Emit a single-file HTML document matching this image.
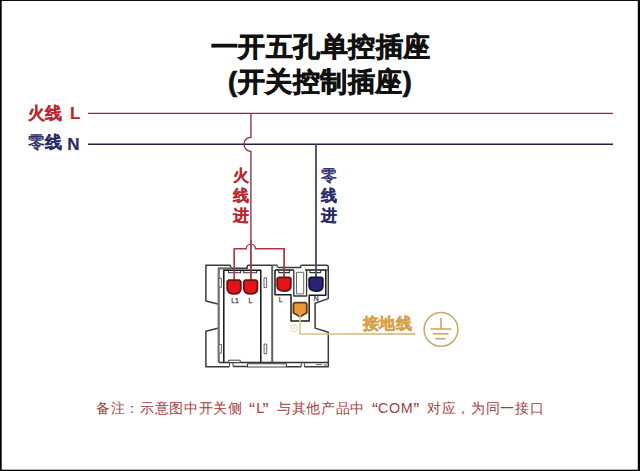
<!DOCTYPE html>
<html><head><meta charset="utf-8">
<style>
html,body{margin:0;padding:0;}
body{width:640px;height:471px;position:relative;overflow:hidden;background:#fff;font-family:"Liberation Sans",sans-serif;}
#frame{position:absolute;left:0;top:0;width:640px;height:471px;box-sizing:border-box;border-style:solid;border-color:#000;border-width:1px 2px 2px 2px;}
.t{position:absolute;white-space:nowrap;line-height:1;}
.title{font-weight:bold;font-size:27px;color:#111;-webkit-text-stroke:0.7px #111;letter-spacing:0.55px;}
.lbl{font-weight:bold;font-size:17px;-webkit-text-stroke:0.2px currentColor;}
.lat{font-size:17px;}
.red{color:#b8282e;}
.blue{color:#2a2a68;}
.vt{font-weight:bold;font-size:16px;line-height:20px;width:16px;white-space:normal;-webkit-text-stroke:0.15px currentColor;}
.foot{font-size:14.3px;color:#a83a3c;letter-spacing:0.65px;}
.gold{color:#d99f48;font-weight:bold;font-size:16.3px;-webkit-text-stroke:0.4px currentColor;}
svg{position:absolute;left:0;top:0;}
.ling{font-weight:500;-webkit-text-stroke:0.5px currentColor;}
</style></head>
<body>
<div class="t title" style="left:210.5px;top:33.5px;">一开五孔单控插座</div>
<div class="t title" style="left:228px;top:69px;">(开关控制插座)</div>

<div class="t lbl red" style="left:27.8px;top:105px;font-size:16.5px">火线</div><div class="t lbl red lat" style="left:70px;top:104.5px;">L</div>
<div class="t lbl blue" style="left:27.5px;top:134px;font-size:16.5px"><span class="ling">零</span>线</div><div class="t lbl blue lat" style="left:67.3px;top:135.5px;">N</div>

<div class="t vt red" style="left:233px;top:166px;">火线进</div>
<div class="t vt blue" style="left:321px;top:166.3px;"><span class="ling">零</span>线进</div>

<div class="t gold" style="left:362.5px;top:314.5px;letter-spacing:0.5px">接地线</div>

<div class="t foot" style="left:96px;top:401px;">备注：示意图中开关侧</div>
<div class="t foot" style="left:249px;top:401px;font-size:18px">“</div>
<div class="t foot" style="left:256.3px;top:401px;">L</div>
<div class="t foot" style="left:262.5px;top:401px;font-size:18px">”</div>
<div class="t foot" style="left:277px;top:401px;">与其他产品中</div>
<div class="t foot" style="left:372px;top:401px;font-size:18px">“</div>
<div class="t foot" style="left:378px;top:401px;">COM</div>
<div class="t foot" style="left:413.3px;top:401px;font-size:18px">”</div>
<div class="t foot" style="left:427px;top:401px;">对应，为同一接口</div>

<svg width="640" height="471" viewBox="0 0 640 471">
  <!-- main lines -->
  <line x1="88" y1="113.4" x2="613" y2="113.4" stroke="#8e2c3c" stroke-width="1.4"/>
  <line x1="88" y1="144.2" x2="613" y2="144.2" stroke="#222246" stroke-width="1.4"/>
  <!-- red vertical with jump arc -->
  <path d="M250.9 113.5 V137.3 A7 7 0 0 0 250.9 151.3 V285" fill="none" stroke="#843442" stroke-width="1.35"/>
  <!-- blue vertical -->
  <line x1="315.9" y1="144.5" x2="315.9" y2="283" stroke="#50506a" stroke-width="1.6"/>
  <!-- red bracket -->
  <path d="M234.3 285 V248.7 H246.3 A4.6 4.6 0 0 1 255.5 248.7 H284.2 V283" fill="none" stroke="#a83646" stroke-width="1.4"/>
  
  <!-- socket body -->
  <g fill="none" stroke-linejoin="round">
    <!-- outer frame -->
    <path d="M230.5 265.2 H205.9 V301 L217.8 304.1 M217.8 328.2 L205.9 331.2 V366.8 H229.5 M233 366.6 H247.5 M286.4 366.8 H301.2 M304.4 366.8 H328.3 V332.3 L315.1 328.1 V303.3 L328.3 298.6 V267 Q328.3 265.2 326.5 265.2 H302 Q300.6 265.2 300.6 266.6 V267.4 H278 M272.5 265.2 H248.5 Q247.2 265.2 247.2 266.6 V268.3 H231.8 Q230.5 268.3 230.5 266.8 V265.2" stroke="#3a3a3a" stroke-width="1.5"/>
    <!-- inner switch body -->
    <path d="M218.7 362.3 V268.3 H231" stroke="#707070" stroke-width="2.2"/>
    <path d="M223.8 362.3 V270.2 H260.8 V362.3" stroke="#151515" stroke-width="1.5"/>
    <path d="M218.7 362.5 H328.3" stroke="#303030" stroke-width="1.4"/>
    <!-- top notches in switch -->
    <path d="M228.5 270.2 V272.8 H240.6 V270.2 M243.6 270.2 V272.8 H256.6 V270.2" stroke="#333" stroke-width="1.1"/>
    <!-- right module -->
    <path d="M272.2 362.3 V265.2" stroke="#606060" stroke-width="2"/>
    <path d="M275 270 V294.8 H291 V321 H309.2 V295.2 H325.8 V270 H305.2 M293.8 270 H275" stroke="#1a1a1a" stroke-width="1.5"/>
    <path d="M272.5 265.2 H277.2 V267.4" stroke="#3a3a3a" stroke-width="1.2"/>
    <!-- center slot -->
    <path d="M293.8 270 V296 H306.6 V270" stroke="#333" stroke-width="1.3"/>
    <rect x="296.5" y="272.3" width="7.2" height="21.6" stroke="#6a6a6a" stroke-width="1"/>
    <path d="M278.7 270 V272.6 H289.4 V270 M310 270 V272.6 H320.6 V270" stroke="#333" stroke-width="1.1"/>
    <path d="M325.8 270 H328.3" stroke="#333" stroke-width="1"/>
    <!-- slots -->
    <rect x="219" y="278.3" width="2.4" height="9" stroke="#555" stroke-width="0.9" fill="#fff"/>
    <rect x="264" y="277.8" width="2.6" height="9.8" stroke="#555" stroke-width="0.9"/>
    <rect x="219" y="344.4" width="2.4" height="8.8" stroke="#555" stroke-width="0.9" fill="#fff"/>
    <rect x="264.1" y="344.1" width="2.6" height="9.6" stroke="#555" stroke-width="0.9"/>
    <!-- bottom tabs -->
    <rect x="228.6" y="360.2" width="11.6" height="2.3" stroke="#444" stroke-width="1" fill="#fff"/>
    <path d="M229.5 362.5 V366.6 M233 362.5 V366.6" stroke="#444" stroke-width="1"/>
    <rect x="247.5" y="363.8" width="38.9" height="3.2" stroke="#444" stroke-width="1.1"/>
    <path d="M301.2 362.5 V366.8 M304.4 362.5 V366.8" stroke="#444" stroke-width="1"/>
    <path d="M316 364.6 H322 M323.5 365 H327" stroke="#666" stroke-width="1"/>
  </g>

  <!-- red/blue drops into terminals -->
  <line x1="234.3" y1="248.7" x2="234.3" y2="285" stroke="#b03848" stroke-width="1.4"/>
  <line x1="250.9" y1="240" x2="250.9" y2="285" stroke="#b03a4c" stroke-width="1.5"/>
  <line x1="284.2" y1="248.7" x2="284.2" y2="283" stroke="#b03848" stroke-width="1.4"/>
  <line x1="315.9" y1="144.5" x2="315.9" y2="283" stroke="#50506a" stroke-width="1.6"/>

  <!-- terminals -->
  <defs>
    <path id="term" d="M1.4 0 H12.2 L13.6 1.4 V8.6 C13.6 12.2 10.6 13.7 6.8 13.7 C3 13.7 0 12.2 0 8.6 V1.4 Z"/>
  </defs>
  <g stroke-width="1.8" stroke-linejoin="round">
    <use href="#term" x="227.2" y="280.2" fill="#e41418" stroke="#6e1012"/>
    <use href="#term" x="243.8" y="280.2" fill="#e41418" stroke="#6e1012"/>
    <use href="#term" x="277.2" y="277.3" fill="#e41418" stroke="#6e1012"/>
    <use href="#term" x="309.2" y="277.3" fill="#2a2476" stroke="#141038"/>
    <path d="M294.8 302.6 H305.4 L306.8 304 V312.8 L300.1 316.8 L293.4 312.8 V304 Z" fill="#e89a3a" stroke="#5e3c12"/>
  </g>
  <line x1="300.1" y1="314" x2="300.1" y2="317" stroke="#f4dcae" stroke-width="1"/>
  <line x1="234.2" y1="280" x2="234.2" y2="284" stroke="#8a1a20" stroke-width="1" opacity="0.6"/>
  <line x1="250.6" y1="280" x2="250.6" y2="284" stroke="#8a1a20" stroke-width="1" opacity="0.6"/>
  <line x1="284" y1="277" x2="284" y2="282" stroke="#8a1a20" stroke-width="1" opacity="0.6"/>
  <line x1="316" y1="277" x2="316" y2="282" stroke="#14143a" stroke-width="1" opacity="0.6"/>

  <!-- small labels -->
  <g font-family="Liberation Sans, sans-serif" font-size="6.8" fill="#4e3a42" stroke="#4e3a42" stroke-width="0.25">
    <text x="231.2" y="302.5">L1</text>
    <text x="248.5" y="302.5">L</text>
    <text x="278.8" y="302">L</text>
    <text x="313.8" y="301.2" fill="#30305a" stroke="#30305a">N</text>
  </g>

  <!-- ground wire -->
  <defs><linearGradient id="gw" gradientUnits="userSpaceOnUse" x1="300" y1="0" x2="415" y2="0"><stop offset="0" stop-color="#dcc48e"/><stop offset="1" stop-color="#c8ac76"/></linearGradient></defs>
  <path d="M300 317 V334 H415.6" fill="none" stroke="url(#gw)" stroke-width="1.6"/>
  <circle cx="294" cy="328.3" r="3.4" fill="none" stroke="#e4d2a8" stroke-width="0.9"/><path d="M294 325.8 V328.2 M292.4 328.6 H295.6 M293 329.8 H295" stroke="#e8d8b0" stroke-width="0.7"/>
  <!-- ground symbol -->
  <circle cx="441" cy="329.4" r="16.9" fill="none" stroke="#c8a870" stroke-width="1.5"/>
  <g fill="#000" stroke="none">
    <rect x="0" y="0" width="640" height="0.95"/>
    <rect x="0" y="0" width="1.7" height="471"/>
    <rect x="637.8" y="0" width="2.2" height="471"/>
    <rect x="0" y="469.7" width="640" height="1.3"/>
  </g>
  <g stroke="#d0a458" stroke-width="1.6">
    <line x1="441" y1="318" x2="441" y2="329"/>
    <line x1="430.6" y1="329" x2="451.3" y2="329"/>
    <line x1="432.8" y1="333.8" x2="448.6" y2="333.8"/>
    <line x1="435.5" y1="338.7" x2="445.5" y2="338.7"/>
  </g>
</svg>
</body></html>
